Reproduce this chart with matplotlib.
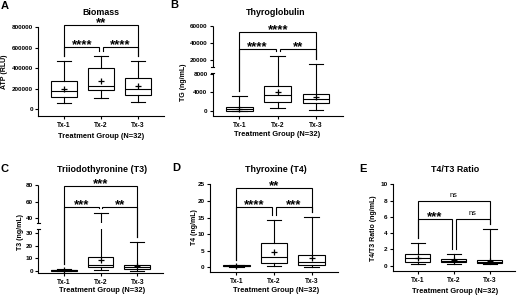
import numpy as np
import matplotlib
matplotlib.use('Agg')
import matplotlib.pyplot as plt
import matplotlib.transforms as mtrans

plt.rcParams['font.family'] = ['Liberation Sans', 'DejaVu Sans']
plt.rcParams['font.weight'] = 'bold'

# ---------------- data ----------------
groups = ['Tx-1', 'Tx-2', 'Tx-3']
# per group: whisker low, Q1, median, mean, Q3, whisker high
biomass = [[58000, 123000, 181000, 200000, 275000, 473000],
           [113000, 188000, 230000, 275000, 400000, 518000],
           [68000, 142000, 200000, 227000, 305000, 473000]]
thyroglobulin = [[0, 100, 350, 450, 800, 3200],
                 [720, 1950, 3450, 4200, 5400, 24500],
                 [200, 1650, 2600, 3100, 3700, 15400]]
t3 = [[0.1, 0.3, 0.5, 0.6, 0.8, 1.2],
      [0.8, 2.8, 4.8, 8.6, 10.8, 46],
      [0.3, 1.6, 3.0, 3.8, 4.6, 22.8]]
t4 = [[0.2, 0.3, 0.45, 0.5, 0.6, 0.8],
      [0.4, 1.2, 3.0, 4.7, 7.4, 14.3],
      [0.2, 0.7, 1.7, 2.9, 3.6, 15.1]]
ratio = [[0.15, 0.5, 0.9, 1.0, 1.4, 2.75],
         [0.15, 0.5, 0.62, 0.65, 0.78, 1.4],
         [0.2, 0.38, 0.5, 0.55, 0.68, 4.47]]

biomass_sig = ['****', '****', '**']
tg_sig = ['****', '**', '****']
t3_sig = ['***', '**', '***']
t4_sig = ['****', '***', '**']
ratio_sig = ['***', 'ns', 'ns']

biomass_ticks = [0, 200000, 400000, 600000, 800000]
tg_ticks = [0, 4000, 8000, 20000, 40000, 60000]
t3_ticks = [0, 10, 20, 30, 40, 60, 80]
t4_ticks = [0, 5, 10, 15, 20, 25]
ratio_ticks = [0, 2, 4, 6, 8, 10]

# ---------------- layout ----------------
W, H = 520, 300
fig = plt.figure(figsize=(W / 100, H / 100), dpi=100)
LW = 0.8


def px_axes(l, r, t, b):
    return fig.add_axes([l / W, 1 - b / H, (r - l) / W, (b - t) / H])


def ftext(x, y, s, **kw):
    kw.setdefault('ha', 'center')
    kw.setdefault('va', 'center')
    fig.text(x / W, 1 - y / H, s, **kw)


def piecewise(xp, fp):
    xp = np.asarray(xp, float)
    fp = np.asarray(fp, float)
    s0 = (fp[1] - fp[0]) / (xp[1] - xp[0])
    s1 = (fp[-1] - fp[-2]) / (xp[-1] - xp[-2])
    big = 1e7
    X = np.concatenate([[xp[0] - big], xp, [xp[-1] + big]])
    F = np.concatenate([[fp[0] - big * s0], fp, [fp[-1] + big * s1]])
    return (lambda v: np.interp(v, X, F)), (lambda p: np.interp(p, F, X))


def panel(box, stats, ylim, yticks, levels, sigs, brk=None, cut_whiskers=False):
    ax = px_axes(*box)
    ax.set_xlim(0.3, 3.7)
    if brk is not None:
        fwd, inv = piecewise(brk[0], brk[1])
        ax.set_yscale('function', functions=(fwd, inv))
    ax.set_ylim(*ylim)
    bx = [dict(whislo=s[0], q1=s[1], med=s[2], mean=s[3], q3=s[4],
               whishi=s[5], fliers=[]) for s in stats]
    ax.bxp(bx, positions=[1, 2, 3], widths=0.7, capwidths=0.38,
           showmeans=True, showfliers=False, patch_artist=True,
           boxprops=dict(facecolor='white', edgecolor='black', linewidth=LW),
           whiskerprops=dict(color='black', linewidth=LW),
           capprops=dict(color='black', linewidth=LW),
           medianprops=dict(color='black', linewidth=LW),
           meanprops=dict(marker='+', markeredgecolor='black',
                          markersize=4.5, markeredgewidth=0.9))
    ax.set_xticks([1, 2, 3], groups)
    ax.set_yticks(yticks, [str(v) for v in yticks])
    ax.yaxis.set_minor_locator(matplotlib.ticker.NullLocator())
    ax.tick_params(direction='out', length=2.3, width=LW, labelsize=4.6,
                   pad=1.5, color='black')
    ax.tick_params(axis='x', labelsize=4.8, pad=2.0)
    for sp in ['top', 'right']:
        ax.spines[sp].set_visible(False)
    for sp in ['left', 'bottom']:
        ax.spines[sp].set_linewidth(LW)
    if brk is not None:
        ax.spines['left'].set_visible(False)
        lo_hi, hi_lo = brk[0][1], brk[0][2]
        tr = mtrans.blended_transform_factory(ax.transAxes, ax.transData)
        for a, b in [(ylim[0], lo_hi), (hi_lo, ylim[1])]:
            ax.plot([0, 0], [a, b], transform=tr, color='black', lw=LW,
                    clip_on=False, solid_capstyle='butt')
        for y in (lo_hi, hi_lo):
            ax.plot([-0.012, 0.012], [y, y], transform=tr, color='black',
                    lw=LW, clip_on=False)
        if cut_whiskers:
            ax.axhspan(lo_hi, hi_lo, xmin=0.05, xmax=1, color='white',
                       zorder=2.5, lw=0)

    def leg_bottom(g):
        d = ax.transData.transform((g + 1, stats[g][5]))
        return ax.transData.inverted().transform((d[0], d[1] + 5))[1]

    pairs = [(0, 1, -0.05, levels[0]), (1, 2, 0.05, levels[0]), (0, 2, 0, levels[1])]
    for (i, j, off, lvl), lab in zip(pairs, sigs):
        x1 = i + 1 + (off if off > 0 else 0)
        x2 = j + 1 + (off if off < 0 else 0)
        ax.plot([x1, x1, x2, x2], [leg_bottom(i), lvl, lvl, leg_bottom(j)],
                color='black', lw=LW, clip_on=False, zorder=3,
                solid_joinstyle='miter')
        if lab == 'ns':
            ax.annotate(lab, xy=((x1 + x2) / 2, lvl), xytext=(0, 3.0),
                        textcoords='offset points', ha='center', va='baseline',
                        fontsize=5.3, fontweight='normal',
                        annotation_clip=False)
        else:
            ax.annotate(lab, xy=((x1 + x2) / 2, lvl), xytext=(0, -1.0),
                        textcoords='offset points', ha='center', va='baseline',
                        fontsize=9.5, fontweight='bold', annotation_clip=False)
    return ax


# A
panel((38.3, 164, 27, 116), biomass, (-65000, 800000), biomass_ticks,
      (608000, 819000), biomass_sig)
# B (broken axis)
panel((212.7, 342.7, 25.7, 115.7), thyroglobulin, (-1016, 60000), tg_ticks,
      (33000, 53000), tg_sig,
      brk=([-1016, 8280, 12600, 60000], [0, 43, 49, 90]))
# C (broken axis)
panel((38.3, 163, 185, 273.3), t3, (-1.8, 80), t3_ticks, (54, 78.8), t3_sig,
      brk=([-1.8, 33, 34, 80], [0, 44.2, 50, 88.3]), cut_whiskers=True)
# D
panel((210, 338, 184.3, 271.7), t4, (-1.3, 25), t4_ticks, (18.25, 24), t4_sig)
# E
panel((392.7, 515, 184.3, 271), ratio, (-0.65, 10), ratio_ticks, (5.74, 7.95),
      ratio_sig)

# titles
TS = 6.4
ftext(100.7, 12.7, 'Biomass', fontsize=TS)
ftext(276, 12.3, 'Thyroglobulin', fontsize=TS)
ftext(102, 169, 'Triiodothyronine (T3)', fontsize=TS)
ftext(276, 170, 'Thyroxine (T4)', fontsize=TS)
ftext(455, 170, 'T4/T3 Ratio', fontsize=TS)

# x labels
XS = 5.4
for x, y in [(100.7, 136), (276.7, 135), (102, 290), (276, 290), (455, 291.5)]:
    ftext(x, y, 'Treatment Group (N=32)', fontsize=XS)

# y labels
YS = 5.0
ftext(4.7, 71.7, 'ATP (RLU)', fontsize=YS, rotation=90)
ftext(183.3, 82, 'TG (ng/mL)', fontsize=YS, rotation=90)
ftext(20.7, 232, 'T3 (ng/mL)', fontsize=YS, rotation=90)
ftext(194, 226.7, 'T4 (ng/mL)', fontsize=YS, rotation=90)
ftext(373.3, 228, 'T4/T3 Ratio (ng/mL)', fontsize=YS, rotation=90)

# panel letters
LS = 8
for s, x, y in [('A', 5, 6.2), ('B', 174.5, 4.5), ('C', 4.5, 168.7),
                ('D', 176.7, 168.3), ('E', 363, 168.7)]:
    ftext(x, y, s, fontsize=LS)

fig.savefig('out.png', dpi=100)
